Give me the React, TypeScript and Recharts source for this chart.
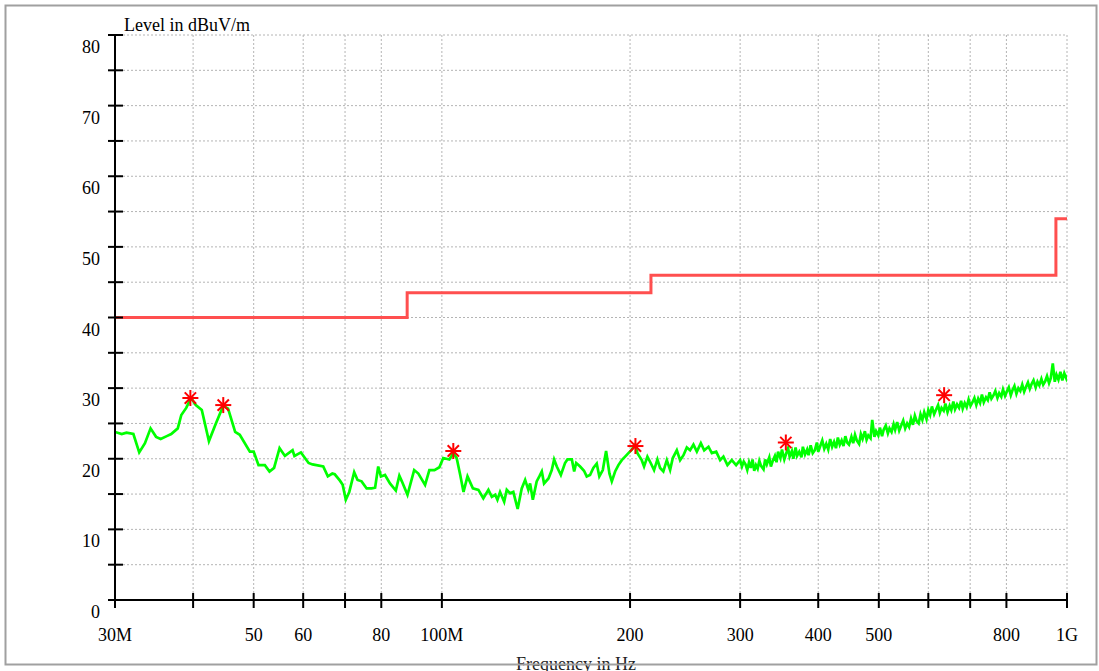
import React from 'react';
import { ComposedChart, Line, Scatter, XAxis, YAxis, CartesianGrid } from 'recharts';

// Frequency in MHz, level in dBuV/m
const traceFreq: number[] = [
  30, 30.75, 31.3, 32.1, 32.8, 33.5, 34.2, 34.9, 35.5, 36.3, 36.9, 37.8, 38.3, 39.0, 39.7, 40.4, 41.3, 42.4,
  43.5, 44.7, 45.5, 46.7, 47.5, 49.3, 50.0, 50.9, 52.1, 53.0, 53.9, 55.0, 56.1, 57.7, 58.1, 59.5, 61.2,
  62.1, 64.6, 65.7, 66.8, 67.4, 68.7, 69.4, 70.2, 71.1, 72.4, 73.3, 74.4, 75.8, 77.2, 78.2, 79.1, 79.9,
  81.1, 82.6, 84.4, 85.5, 86.3, 88.1, 90.3, 91.7, 94.0, 95.5, 97.3, 99.1, 100.5, 102.8, 104.3, 105.6,
  107.0, 108.3, 109.9, 112.1, 114.4, 116.5, 118.7, 120.2, 121.7, 122.7, 123.9,
  125.8, 127.0, 128.6, 130.1, 132.2, 134.2, 135.9, 137.5, 138.4, 139.8, 141.8, 143.2, 144.5, 145.7, 148.1,
  149.9, 151.2, 152.7, 155.0, 157.4, 158.8, 161.4, 162.8, 164.0, 166.4, 168.8, 170.5, 172.6, 174.7, 176.9,
  178.6, 180.9, 183.1, 185.4, 187.0, 189.3, 191.6, 194.0, 196.4, 198.8, 201.3, 203.8, 205.5, 208.8, 210.6,
  213.2, 215.8, 218.5, 221.2, 223.4, 226.1, 229.0, 231.8, 234.1, 237.6, 240.5, 243.5, 246.5, 249.5, 252.6,
  255.8, 259.6, 262.8, 267.0, 270.3, 274.7, 278.7, 282.1, 286.3, 290.9, 295.6,
  300, 302, 304, 306, 308, 310, 312, 314, 316, 318,
  320, 322, 324, 327, 329, 331, 334, 336, 338, 341,
  343, 345, 348, 350, 353, 355, 358, 360, 363, 365,
  368, 370, 373, 376, 378, 381, 384, 386, 389, 392,
  395, 398, 400, 403, 406, 409, 412, 415, 418, 421,
  424, 427, 430, 433, 436, 439, 442, 445, 448, 452,
  455, 458, 461, 465, 468, 471, 475, 478, 481, 485,
  488, 492, 495, 499, 502, 506, 509, 513, 517, 520,
  524, 528, 531, 535, 539, 543, 547, 551, 555, 559,
  563, 567, 571, 575, 579, 583, 587, 591, 596, 600,
  604, 608, 613, 617, 622, 626, 630, 635, 639, 644,
  649, 653, 658, 662, 667, 672, 677, 681, 686, 691,
  696, 701, 706, 711, 716, 721, 726, 731, 736, 742,
  747, 752, 757, 763, 768, 774, 779, 785, 790, 796,
  801, 807, 813, 818, 824, 830, 836, 842, 848, 854,
  860, 866, 872, 878, 884, 891, 897, 903, 910, 916,
  923, 929, 936, 942, 949, 956, 962, 969, 976, 983,
  990, 997, 1000,
];

const traceLevel: number[] = [
  23.8, 23.5, 23.7, 23.5, 20.9, 22.2, 24.3, 23.1, 22.8, 23.2, 23.5, 24.3, 26.2, 27.2, 28.6, 27.6, 26.9, 22.5,
  25.0, 27.5, 27.1, 23.8, 23.4, 21.0, 21.0, 19.1, 19.1, 18.2, 18.7, 21.5, 20.4, 21.2, 20.4, 20.9, 19.4,
  19.2, 18.9, 17.5, 17.9, 17.8, 16.9, 16.3, 14.2, 15.3, 18.1, 17.0, 16.8, 15.8, 15.8, 15.9, 18.9, 17.5,
  17.7, 16.5, 15.5, 17.6, 16.8, 14.9, 18.4, 17.9, 16.3, 18.4, 18.4, 18.8, 20.1, 19.9, 20.8, 20.1,
  17.7, 15.3, 17.5, 15.8, 15.6, 14.4, 15.6, 14.6, 14.9, 14.2, 15.3,
  13.9, 15.6, 15.1, 15.3, 12.9, 15.8, 17.0, 15.6, 16.5, 14.2, 16.8, 17.5, 18.2, 16.5, 17.2,
  18.4, 19.9, 18.9, 17.7, 19.4, 19.9, 19.9, 18.2, 19.4, 18.9, 18.3, 17.5, 17.7, 18.7, 19.3,
  17.5, 18.4, 21.1, 17.9, 16.8, 18.2, 19.1, 19.8, 20.3, 20.8, 21.3, 22.0, 20.8, 19.8, 18.9,
  20.3, 19.4, 18.4, 19.9, 18.7, 18.2, 19.8, 18.4, 20.1, 21.2, 19.8, 20.5, 21.6, 21.2, 22.0,
  21.0, 22.2, 21.2, 21.7, 20.8, 21.0, 19.8, 20.3, 19.1, 19.8, 19.1,
  19.8, 18.9, 19.6, 19.2, 18.4, 19.5, 18.7, 19.9, 18.3, 19.1,
  18.6, 19.7, 19.0, 18.5, 19.9, 19.2, 20.2, 18.9, 19.6, 20.4,
  19.5, 21.0, 20.1, 21.3, 19.9, 20.6, 21.5, 20.3, 21.1, 20.0,
  21.6, 20.4, 21.0, 20.2, 21.7, 20.6, 21.3, 20.5, 21.9, 20.8,
  21.2, 22.3, 21.0, 21.8, 22.6, 21.4, 22.1, 21.3, 22.8, 21.7,
  22.4, 21.5, 23.0, 22.0, 22.6, 21.8, 23.2, 22.3, 22.0, 23.1,
  22.2, 23.4, 22.6, 22.1, 23.5, 22.8, 23.9, 22.7, 23.3, 22.9,
  25.5, 23.1, 23.9, 23.3, 24.4, 23.2, 24.1, 24.7, 23.6, 24.3,
  23.8, 24.9, 24.1, 25.2, 24.0, 24.7, 25.4, 24.3, 25.0, 24.5,
  25.7, 24.8, 26.1, 25.3, 25.0, 26.3, 25.5, 26.6, 25.6, 26.9,
  26.2, 27.4, 26.3, 26.9, 27.6, 26.5, 27.2, 26.8, 27.8, 26.6,
  27.5, 26.9, 28.1, 27.0, 27.7, 27.2, 28.2, 27.1, 27.9, 27.3,
  28.4, 27.5, 28.0, 28.6, 27.6, 28.5, 27.9, 29.1, 28.0, 28.7,
  28.3, 29.4, 28.5, 29.0, 29.6, 28.6, 29.3, 28.8, 29.8, 28.9,
  29.5, 30.1, 29.0, 29.7, 30.3, 29.2, 30.0, 29.6, 30.5, 29.5,
  30.2, 30.8, 29.9, 30.6, 31.1, 30.1, 30.9, 30.4, 31.3, 30.5,
  31.0, 31.7, 30.7, 31.4, 33.5, 30.9, 31.9, 31.2, 32.3, 31.1,
  32.1, 31.4, 31.9,
];

const limitFreq: number[] = [30, 88, 88, 216, 216, 960, 960, 1000];
const limitLevel: number[] = [40, 40, 43.5, 43.5, 46, 46, 54, 54];

const markerFreq: number[] = [39.6, 44.7, 104.3, 204.0, 355, 636];
const markerLevel: number[] = [28.6, 27.6, 21.1, 21.8, 22.3, 29.0];

const xTicks: number[] = [30, 40, 50, 60, 70, 80, 100, 200, 300, 400, 500, 600, 700, 800, 1000];
const xTickLabels: string[] = ['30M', '', '50', '60', '', '80', '100M', '200', '300', '400', '500', '', '', '800', '1G'];
const yTicks: number[] = [0, 5, 10, 15, 20, 25, 30, 35, 40, 45, 50, 55, 60, 65, 70, 75, 80];

const traceData = traceFreq.map((f, i) => ({ f, l: traceLevel[i] }));
const limitData = limitFreq.map((f, i) => ({ f, l: limitLevel[i] }));
const markerData = markerFreq.map((f, i) => ({ f, l: markerLevel[i] }));

const FONT = '"Liberation Serif", "Times New Roman", serif';

const YTick = (props: any) => {
  const { x, y, payload } = props;
  const v = payload.value;
  return (
    <g>
      <line x1={x - 7} x2={x + 8} y1={y} y2={y} stroke="#000" strokeWidth={2} />
      {v % 10 === 0 ? (
        <text x={x - 15} y={y + 18} textAnchor="end" fontFamily={FONT} fontSize={18} fill="#000">
          {v}
        </text>
      ) : null}
    </g>
  );
};

const XTick = (props: any) => {
  const { x, y, payload } = props;
  const idx = xTicks.indexOf(payload.value);
  const label = idx >= 0 ? xTickLabels[idx] : '';
  return (
    <g>
      <line x1={x} x2={x} y1={y - 7} y2={y + 8} stroke="#000" strokeWidth={2} />
      {label ? (
        <text x={x} y={y + 41} textAnchor="middle" fontFamily={FONT} fontSize={18} fill="#000">
          {label}
        </text>
      ) : null}
    </g>
  );
};

const Star = (props: any) => {
  const { cx, cy } = props;
  if (cx == null || cy == null) return null;
  const r = 8;
  const d = r * 0.7071;
  return (
    <g stroke="#ff0000" strokeWidth={2}>
      <line x1={cx - r} x2={cx + r} y1={cy} y2={cy} />
      <line x1={cx} x2={cx} y1={cy - r} y2={cy + r} />
      <line x1={cx - d} x2={cx + d} y1={cy - d} y2={cy + d} />
      <line x1={cx - d} x2={cx + d} y1={cy + d} y2={cy - d} />
    </g>
  );
};

export default function App() {
  return (
    <div
      style={{
        position: 'absolute',
        left: 0,
        top: 0,
        width: 1099,
        height: 671,
        overflow: 'hidden',
        background: '#fff',
      }}
    >
      <ComposedChart
        width={1099}
        height={671}
        margin={{ top: 35, right: 32, bottom: 31, left: 0 }}
      >
        <CartesianGrid stroke="#b4b4b4" strokeDasharray="2 2" strokeWidth={1} />
        <XAxis
          dataKey="f"
          type="number"
          scale="log"
          domain={[30, 1000]}
          allowDataOverflow
          ticks={xTicks}
          interval={0}
          height={40}
          tickSize={0}
          tickMargin={0}
          tickLine={false}
          axisLine={{ stroke: '#000', strokeWidth: 2 }}
          tick={<XTick />}
        />
        <YAxis
          type="number"
          domain={[0, 80]}
          allowDataOverflow
          ticks={yTicks}
          interval={0}
          width={115}
          tickSize={0}
          tickMargin={0}
          tickLine={false}
          axisLine={{ stroke: '#000', strokeWidth: 2 }}
          tick={<YTick />}
        />
        <Line
          data={limitData}
          dataKey="l"
          type="linear"
          stroke="#ff4f4f"
          strokeWidth={3}
          dot={false}
          activeDot={false}
          isAnimationActive={false}
        />
        <Line
          data={traceData}
          dataKey="l"
          type="linear"
          stroke="#00ff00"
          strokeWidth={2.7}
          dot={false}
          activeDot={false}
          isAnimationActive={false}
        />
        <Scatter data={markerData} dataKey="l" shape={<Star />} isAnimationActive={false} />
      </ComposedChart>
      <svg
        width={1099}
        height={671}
        style={{ position: 'absolute', left: 0, top: 0, pointerEvents: 'none' }}
      >
        <text x={124} y={31} fontFamily={FONT} fontSize={18} fill="#000">
          Level in dBuV/m
        </text>
        <text x={576} y={670} textAnchor="middle" fontFamily={FONT} fontSize={18} fill="#222">
          Frequency in Hz
        </text>
        <rect x={5.5} y={5.5} width={1091} height={659} fill="none" stroke="#a0a0a0" strokeWidth={2} />
      </svg>
    </div>
  );
}
